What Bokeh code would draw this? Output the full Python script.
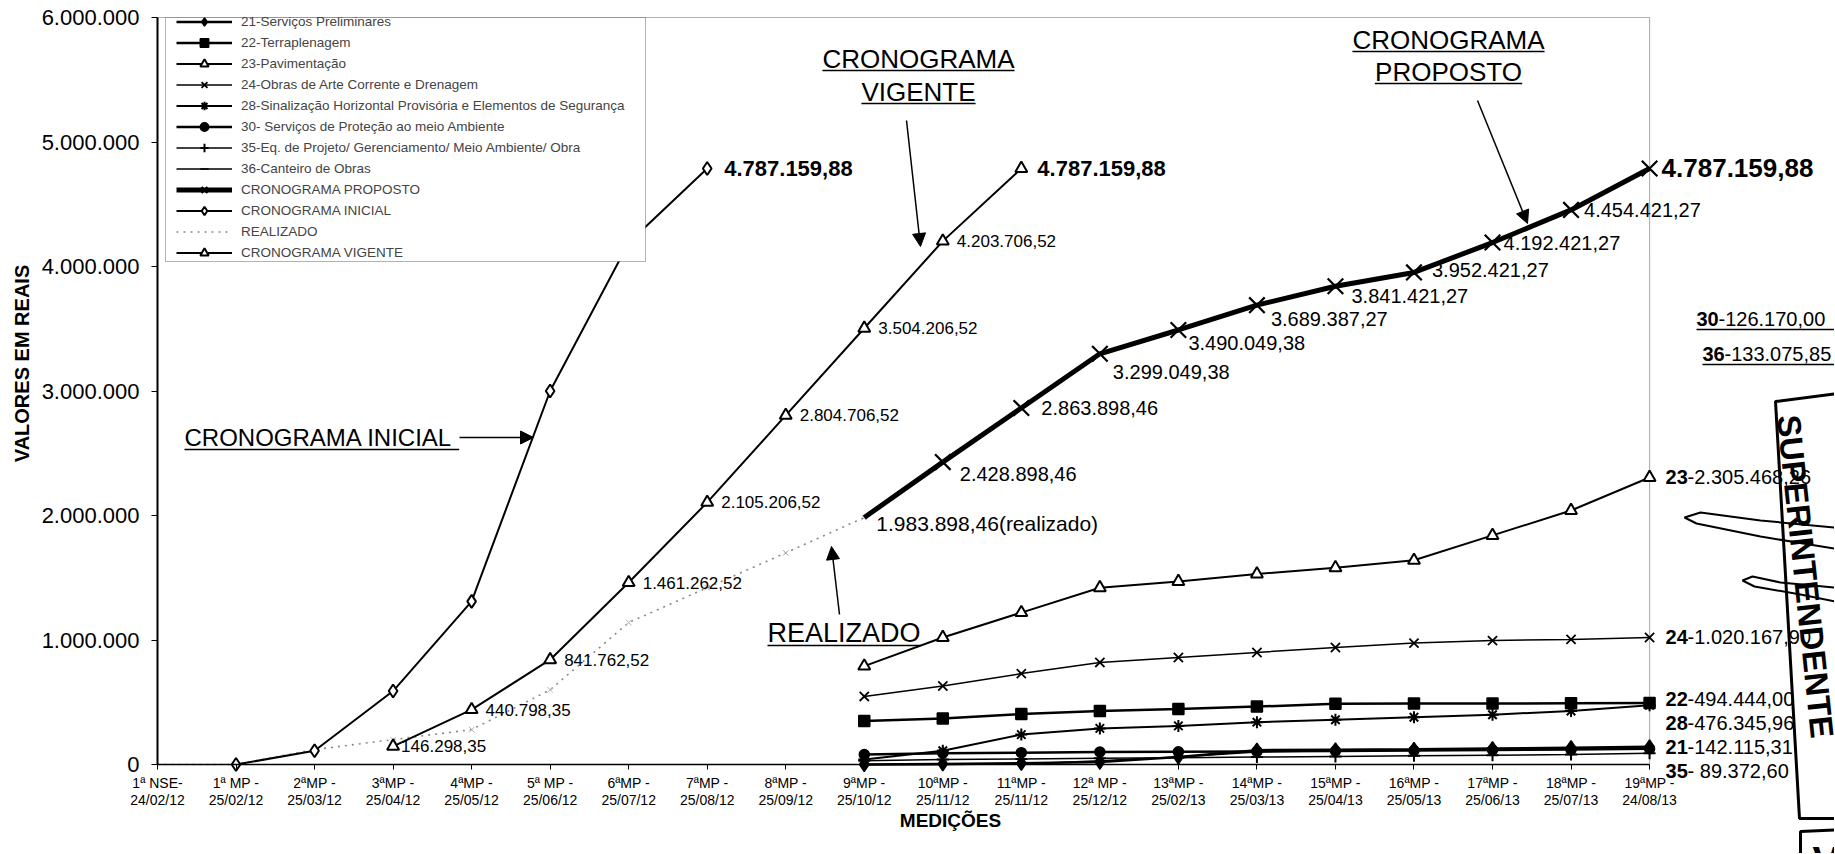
import math
from bokeh.plotting import figure
from bokeh.models import (Range1d, FixedTicker, Label, Arrow, NormalHead, Legend,
                          LegendItem, BoxAnnotation, PolyAnnotation)
from bokeh.embed import file_html
from bokeh.resources import INLINE

NaN = float("nan")

# ---------------- data ----------------
medicoes = ["1ª NSE-\n24/02/12", "1ª MP -\n25/02/12", "2ªMP -\n25/03/12", "3ªMP -\n25/04/12",
            "4ªMP -\n25/05/12", "5ª MP -\n25/06/12", "6ªMP -\n25/07/12", "7ªMP -\n25/08/12",
            "8ªMP -\n25/09/12", "9ªMP -\n25/10/12", "10ªMP -\n25/11/12", "11ªMP -\n25/11/12",
            "12ª MP -\n25/12/12", "13ªMP -\n25/02/13", "14ªMP -\n25/03/13", "15ªMP -\n25/04/13",
            "16ªMP -\n25/05/13", "17ªMP -\n25/06/13", "18ªMP -\n25/07/13", "19ªMP -\n24/08/13"]

y_ticks = [0, 1000000, 2000000, 3000000, 4000000, 5000000, 6000000]

cron_inicial = [NaN, 0.0, 110000, 590000, 1310000, 3000000, 4190000, 4787159.88] + [NaN] * 12
cron_vigente = [NaN] * 3 + [146298.35, 440798.35, 841762.52, 1461262.52, 2105206.52,
                            2804706.52, 3504206.52, 4203706.52, 4787159.88] + [NaN] * 8
realizado = [0.0, 0.0, 120000, 200000, 280000, 600000, 1140000, 1420000, 1700000,
             1983898.46] + [NaN] * 10
cron_proposto = [NaN] * 9 + [1983898.46, 2428898.46, 2863898.46, 3299049.38, 3490049.38,
                             3689387.27, 3841421.27, 3952421.27, 4192421.27, 4454421.27,
                             4787159.88]
s21 = [NaN] * 9 + [0, 5000, 10000, 20000, 60000, 115000, 118000, 122000, 128000, 135000, 142115.31]
s22 = [NaN] * 9 + [350000, 370000, 405000, 430000, 445000, 465000, 488000, 490000, 490000, 492000, 494444.00]
s23 = [NaN] * 9 + [790000, 1020000, 1220000, 1420000, 1470000, 1530000, 1580000, 1640000, 1840000, 2040000, 2305468.26]
s24 = [NaN] * 9 + [547000, 630000, 730000, 820000, 860000, 900000, 940000, 975000, 995000, 1005000, 1020167.90]
s28 = [NaN] * 9 + [40000, 110000, 240000, 290000, 310000, 340000, 360000, 380000, 400000, 430000, 476345.96]
s30 = [NaN] * 9 + [80000, 90000, 95000, 100000, 102000, 105000, 108000, 112000, 116000, 120000, 126170.00]
s35 = [NaN] * 9 + [30000, 40000, 45000, 50000, 55000, 60000, 65000, 70000, 75000, 80000, 89372.60]
s36 = [NaN] * 9 + [0, 0, 5000, 30000, 60000, 100000, 110000, 115000, 120000, 125000, 133075.85]

legend_labels = ["21-Serviços Preliminares", "22-Terraplenagem", "23-Pavimentação",
                 "24-Obras de Arte Corrente e Drenagem",
                 "28-Sinalização Horizontal Provisória e Elementos de Segurança",
                 "30- Serviços de Proteção ao meio Ambiente",
                 "35-Eq. de Projeto/ Gerenciamento/ Meio Ambiente/ Obra",
                 "36-Canteiro de Obras", "CRONOGRAMA PROPOSTO", "CRONOGRAMA INICIAL",
                 "REALIZADO", "CRONOGRAMA VIGENTE"]

x = list(range(len(medicoes)))

# ---------------- helpers ----------------
FONT = "Liberation Sans"
X0, DX = 157.0, 78.53       # page px of first category, px per category
Y0, DY = 764.0, 124.5       # page px of zero, px per million
W, H = 1834, 853


def px(v):
    return (v - X0) / DX


def py(v):
    return (Y0 - v) / DY * 1e6


def dpx(v):  # pixel -> data (y)
    return v / DY * 1e6


def fmt_br(v, dec=2):
    s = f"{v:,.{dec}f}"
    return s.replace(",", "#").replace(".", ",").replace("#", ".")


CW = {'C': .722, 'R': .722, 'O': .778, 'N': .722, 'G': .778, 'A': .667, 'M': .833, 'I': .278,
      'L': .556, 'V': .667, 'E': .667, 'T': .611, 'P': .667, 'S': .667, 'Z': .611, 'D': .722,
      ' ': .278, '.': .278, ',': .278, '-': .333}


def tw(s, size):
    return sum(CW.get(c, .556) for c in s) * size


# frame covers the whole canvas; axes are pinned at 0 with fixed_location
p = figure(width=W, height=H, x_range=Range1d(px(0), px(W)),
           y_range=Range1d(py(H), py(0)),
           output_backend="svg", toolbar_location=None,
           min_border_left=0, min_border_right=0, min_border_top=0, min_border_bottom=0)
p.xgrid.visible = False
p.ygrid.visible = False
p.outline_line_color = None
p.background_fill_color = "white"
p.border_fill_color = "white"

p.xaxis.fixed_location = 0
p.xaxis.bounds = (0, 19)
p.xaxis.ticker = FixedTicker(ticks=x)
p.xaxis.major_label_overrides = {i: lab for i, lab in enumerate(medicoes)}
p.xaxis.major_label_text_font = FONT
p.xaxis.major_label_text_font_size = "14px"
p.xaxis.major_label_text_line_height = 1.1
p.xaxis.major_label_text_color = "black"
p.xaxis.major_label_standoff = 5
p.xaxis.major_tick_out = 5
p.xaxis.major_tick_in = 0
p.xaxis.minor_tick_line_color = None
p.xaxis.axis_line_width = 1.5
p.xaxis.axis_line_color = "black"
p.xaxis.major_tick_line_color = "black"

p.yaxis.fixed_location = 0
p.yaxis.bounds = (0, 6000000)
p.yaxis.ticker = FixedTicker(ticks=y_ticks)
p.yaxis.major_label_overrides = {t: fmt_br(t, 0) for t in y_ticks}
p.yaxis.major_label_text_font = FONT
p.yaxis.major_label_text_font_size = "22px"
p.yaxis.major_label_text_color = "black"
p.yaxis.major_label_standoff = 12
p.yaxis.major_tick_out = 6
p.yaxis.major_tick_in = 0
p.yaxis.minor_tick_line_color = None
p.yaxis.axis_line_width = 2
p.yaxis.axis_line_color = "black"
p.yaxis.major_tick_line_color = "black"

# plot-area border
p.add_layout(BoxAnnotation(left=0, right=19, bottom=0, top=6e6, fill_alpha=0,
                           line_color="black", line_width=1.2, level="underlay"))

# ---------------- series ----------------
r_real = p.line(x, realizado, line_color="#8a8a8a", line_width=1.6, line_dash="2 5")
p.scatter(x[2:10], realizado[2:10], marker="x", size=8, line_color="#b0b0b0", line_width=1)
r_ini_l = p.line(x, cron_inicial, line_color="black", line_width=2)
r_ini_m = p.scatter(x, cron_inicial, marker="diamond", size=13, fill_color="white",
                    line_color="black", line_width=2)
r_vig_l = p.line(x, cron_vigente, line_color="black", line_width=2)
r_vig_m = p.scatter(x, cron_vigente, marker="triangle", size=12, fill_color="white",
                    line_color="black", line_width=2)


def comp(vals, marker, size, lw, mlw=1.5, fill="black"):
    rl = p.line(x, vals, line_color="black", line_width=lw)
    rm = p.scatter(x, vals, marker=marker, size=size, fill_color=fill, line_color="black",
                   line_width=mlw)
    return [rl, rm]


r36 = comp(s36, "dash", 8, 1.5)
r35 = comp(s35, "cross", 12, 1.5, 2)
r30 = comp(s30, "circle", 10, 2.5)
r21 = comp(s21, "diamond", 14, 2.5)
r28 = comp(s28, "asterisk", 12, 2, 2)
r22 = comp(s22, "square", 11, 2.5)
r24 = comp(s24, "x", 13, 1.5, 1.8)
r23 = comp(s23, "triangle", 12, 2, 2, fill="white")

r_pro_l = p.line(x, cron_proposto, line_color="black", line_width=5)
r_pro_m = p.scatter(x[10:], cron_proposto[10:], marker="x", size=22, line_color="black",
                    line_width=2.2)

# ---------------- legend ----------------
box = BoxAnnotation(left=px(165), right=px(645), top=6e6, bottom=py(261),
                    fill_color="white", fill_alpha=1.0, line_color="black", line_width=1)
p.add_layout(box)
rend_lists = [r21, r22, r23, r24, r28, r30, r35, r36, [r_pro_l, r_pro_m],
              [r_ini_l, r_ini_m], [r_real], [r_vig_l, r_vig_m]]
items = [LegendItem(label=lab, renderers=rl) for lab, rl in zip(legend_labels, rend_lists)]
legend = Legend(items=items, location=(176, H - 263), padding=0, spacing=0, margin=0,
                label_height=21, glyph_height=21, glyph_width=56, label_standoff=9,
                label_width=380, label_text_font=FONT, label_text_font_size="13.5px",
                border_line_alpha=0, background_fill_alpha=0)
p.add_layout(legend)


# ---------------- labels ----------------
def lab(xv, yv, text, size, bold=False, align="left", xo=0, angle=0.0):
    p.add_layout(Label(x=xv, y=yv, text=text, text_font=FONT, text_font_size=f"{size}px",
                       text_font_style="bold" if bold else "normal", text_align=align,
                       text_baseline="middle", x_offset=xo, angle=angle, text_color="black"))


def uline(x1p, x2p, yp, w=1.3):
    p.add_layout(Arrow(end=None, x_start=px(x1p), y_start=py(yp), x_end=px(x2p), y_end=py(yp),
                       line_color="black", line_width=w))


def arrow(x1p, y1p, x2p, y2p):
    p.add_layout(Arrow(end=NormalHead(size=13, fill_color="black", line_color="black"),
                       x_start=px(x1p), y_start=py(y1p), x_end=px(x2p), y_end=py(y2p),
                       line_color="black", line_width=1.5))


# vigente values
for i in range(3, 11):
    lab(x[i], cron_vigente[i], fmt_br(cron_vigente[i]), 17, xo=8 if i == 3 else 14)
lab(x[11], cron_vigente[11], fmt_br(cron_vigente[11]), 22, bold=True, xo=16)
# inicial total
lab(x[7], cron_inicial[7], fmt_br(cron_inicial[7]), 22, bold=True, xo=17)
# realizado
lab(x[9], realizado[9] - dpx(6), fmt_br(realizado[9]) + "(realizado)", 21, xo=12)
# proposto values
pro_off = {10: (17, 12), 11: (20, 0), 12: (13, 18), 13: (10, 13), 14: (14, 14),
           15: (16, 10), 16: (18, -2), 17: (11, 0), 18: (13, 0)}
for i, (xo, yo) in pro_off.items():
    lab(x[i], cron_proposto[i] - dpx(yo), fmt_br(cron_proposto[i]), 20, xo=xo)
lab(x[19], cron_proposto[19], fmt_br(cron_proposto[19]), 26, bold=True, xo=12)

# component totals at the right
right = [("23", s23, 0, "-"), ("24", s24, 0, "-"), ("22", s22, -4, "-"),
         ("28", s28, 18, "-"), ("21", s21, 0, "-"), ("35", s35, 18, "- ")]
for code, arr, yo, sep in right:
    yv = arr[19] - dpx(yo)
    lab(x[19], yv, code, 20, bold=True, xo=16)
    lab(x[19], yv, sep + fmt_br(arr[19]), 20, xo=16 + 22)
for code, arr, x1, yp in [("30", s30, 1696, 318), ("36", s36, 1702, 353)]:
    lab(px(x1), py(yp), code, 20, bold=True)
    lab(px(x1), py(yp), "-" + fmt_br(arr[19]), 20, xo=22)
    uline(x1, 1840, yp + 11, 1.5)

# annotations
t = "CRONOGRAMA  INICIAL"
lab(px(184), py(437), t, 24)
uline(184, 184 + tw(t, 24), 449)
arrow(459, 437, 533, 437)

for cx, ys, words in [(918, (58, 91), ("CRONOGRAMA", "VIGENTE")),
                      (1448, (39, 71), ("CRONOGRAMA", "PROPOSTO"))]:
    for yy, w in zip(ys, words):
        lab(px(cx), py(yy), w, 26, align="center")
        ww = tw(w, 26)
        uline(cx - ww / 2, cx + ww / 2, yy + 12)
arrow(906, 120, 920, 246)
arrow(1477, 100, 1527, 223)

t = "REALIZADO"
lab(px(767), py(632), t, 27)
uline(767, 767 + tw(t, 27), 645)
arrow(839, 614, 831, 546)

# axis titles
lab(px(21), py(363), "VALORES EM REAIS", 20, bold=True, align="center", angle=math.pi / 2)
lab(px(950), py(820), "MEDIÇÕES", 19, bold=True, align="center")


# stamp (scanned page)
def poly(pts, lw):
    p.add_layout(PolyAnnotation(xs=[px(a) for a, b in pts], ys=[py(b) for a, b in pts],
                                fill_alpha=0, line_color="black", line_alpha=1.0,
                                line_width=lw))


poly([(1775, 401), (1845, 392), (1845, 818), (1799, 818)], 3)
poly([(1800, 831), (1845, 829), (1845, 880), (1800, 880)], 3)
poly([(1845, 528), (1760, 520), (1700, 512), (1684, 517), (1696, 523), (1760, 536), (1845, 550)], 2)
poly([(1845, 588), (1780, 582), (1752, 576), (1742, 580), (1754, 586), (1800, 594), (1845, 603)], 2)
lab(px(1805), py(576), "SUPERINTENDENTE", 33, bold=True, align="center",
    angle=math.atan2(-424, 45))
lab(px(1812), py(860), "V I C", 40, bold=True)

open("out.html", "w").write(file_html(p, INLINE))
